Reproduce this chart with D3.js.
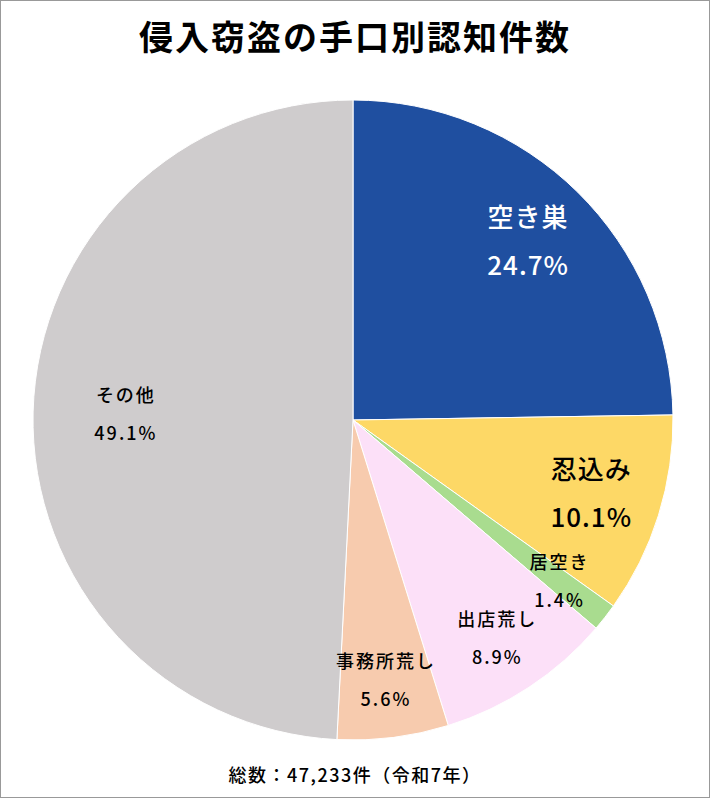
<!DOCTYPE html>
<html><head><meta charset="utf-8">
<script src="https://cdn.jsdelivr.net/npm/d3@7"></script>
<style>body{margin:0;background:#fff}svg{display:block}</style>
</head><body>
<svg id="chart" width="710" height="798"></svg>
<script>
var categories = ["空き巣", "忍込み", "居空き", "出店荒し", "事務所荒し", "その他"];
var shares = [24.7, 10.1, 1.4, 8.9, 5.6, 49.1];
var colors = ["#1f4fa0", "#fdd866", "#a9dc8f", "#fce0f8", "#f7cbae", "#cfcccd"];
var labelColors = ["#fff", "#000", "#000", "#000", "#000", "#000"];
var bigLabel = [true, true, false, false, false, false];

var width = 710, height = 798, cx = 353, cy = 420, radius = 320;
var svg = d3.select("#chart");
var font = "'Noto Sans CJK JP', 'Noto Sans', sans-serif";

svg.append("rect").attr("x", 0.5).attr("y", 0.5)
  .attr("width", width - 1).attr("height", height - 1)
  .attr("fill", "#fff").attr("stroke", "#999");

svg.append("text").attr("x", width / 2).attr("y", 50)
  .attr("text-anchor", "middle").attr("font-family", font)
  .attr("font-weight", "bold").attr("font-size", 34)
  .attr("letter-spacing", 2)
  .text("侵入窃盗の手口別認知件数");

var data = categories.map(function(c, i) { return {name: c, v: shares[i], i: i}; });
var pie = d3.pie().sort(null).value(function(d) { return d.v; });
var arc = d3.arc().innerRadius(0).outerRadius(radius);

var g = svg.append("g").attr("transform", "translate(" + cx + "," + cy + ")");
var arcs = pie(data);

g.selectAll("path").data(arcs).enter().append("path")
  .attr("d", arc)
  .attr("fill", function(d) { return colors[d.data.i]; })
  .attr("stroke", "#fff").attr("stroke-width", 1);

arcs.forEach(function(d) {
  var i = d.data.i;
  var lr = i === 5 ? radius * 0.71 : (bigLabel[i] ? radius * 0.78 : radius * 0.82);
  var la = d3.arc().innerRadius(lr).outerRadius(lr);
  var c = la.centroid(d);
  var fs = bigLabel[i] ? 26 : 18;
  var gap = bigLabel[i] ? 24 : 19;
  var t = g.append("text").attr("text-anchor", "middle")
    .attr("font-family", font).attr("font-size", fs)
    .attr("font-weight", 500)
    .attr("letter-spacing", bigLabel[i] ? 1 : 2)
    .attr("fill", labelColors[i]);
  t.append("tspan").attr("x", c[0]).attr("y", c[1] - gap + fs * 0.35).text(d.data.name);
  t.append("tspan").attr("x", c[0]).attr("y", c[1] + gap + fs * 0.35).text(d.data.v.toFixed(1) + "%");
});

svg.append("text").attr("x", width / 2).attr("y", 782)
  .attr("text-anchor", "middle").attr("font-family", font)
  .attr("font-size", 18).attr("font-weight", 500).attr("letter-spacing", 1.5)
  .text("総数：47,233件（令和7年）");
</script>
</body></html>
